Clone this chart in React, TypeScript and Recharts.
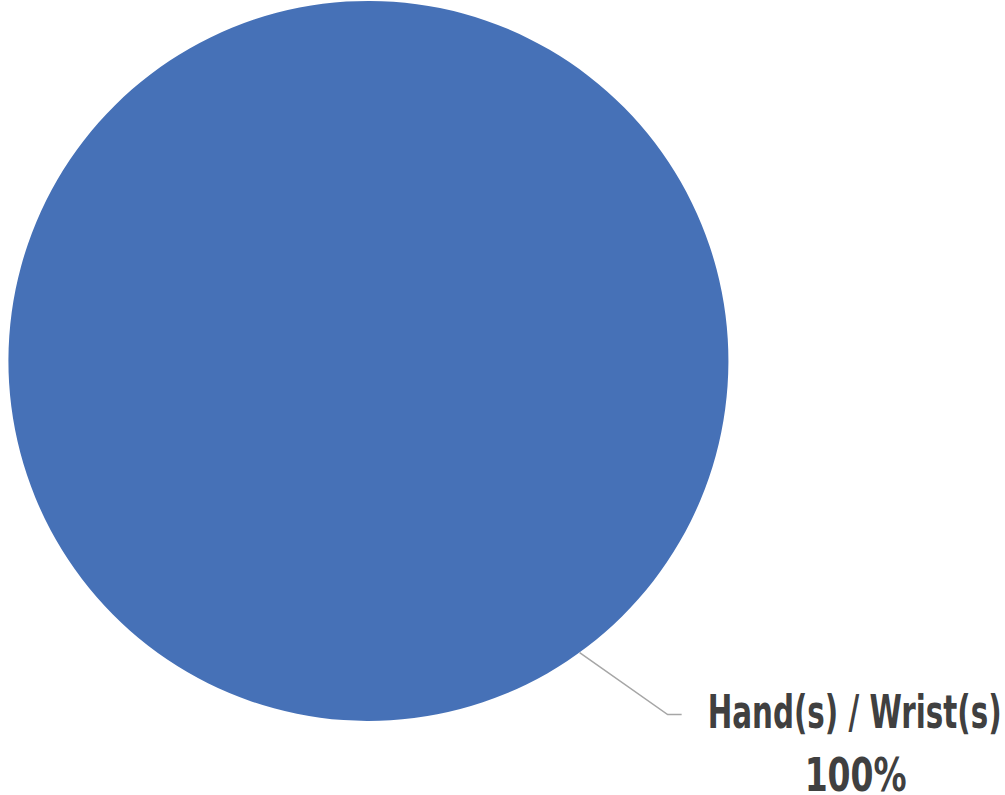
import React from "react";
import { PieChart, Pie, Cell } from "recharts";

const categories = ["Hand(s) / Wrist(s)"];
const values = [100];
const colors = ["#4671B7"];

const data = categories.map((name, i) => ({ name, value: values[i] }));

const RAD = Math.PI / 180;

const renderLabel = (props: any) => {
  const { cx, cy, outerRadius, midAngle, name, percent } = props;
  const sx = cx + outerRadius * Math.cos(-midAngle * RAD);
  const sy = cy + outerRadius * Math.sin(-midAngle * RAD);
  const ex = sx + 88;
  const ey = sy + 62;
  const hx = ex + 14;
  const tx = hx + 173;
  const font = "'Liberation Sans Narrow', 'DejaVu Sans Condensed', 'Roboto', sans-serif";
  return (
    <g>
      <polyline
        points={`${sx},${sy} ${ex},${ey} ${hx},${ey}`}
        fill="none"
        stroke="#A6A6A6"
        strokeWidth={1.5}
      />
      <text
        x={tx}
        y={ey + 13}
        textAnchor="middle"
        fill="#404040"
        fontFamily={font}
        fontWeight="bold"
        fontSize={47}
        textLength={294}
        lengthAdjust="spacingAndGlyphs"
      >
        {name}
      </text>
      <text
        x={tx + 1}
        y={ey + 76}
        textAnchor="middle"
        fill="#404040"
        fontFamily={font}
        fontWeight="bold"
        fontSize={47}
        textLength={102}
        lengthAdjust="spacingAndGlyphs"
      >
        {`${Math.round(percent * 100)}%`}
      </text>
    </g>
  );
};

export default function App() {
  return (
    <div style={{ position: "absolute", left: 0, top: 0, width: 1005, height: 795, background: "#fff" }}>
      <PieChart width={1005} height={795} margin={{ top: 0, right: 0, bottom: 0, left: 0 }}>
        <Pie
          data={data}
          dataKey="value"
          nameKey="name"
          cx={365}
          cy={363.5}
          outerRadius={360}
          startAngle={126.6}
          endAngle={-233.4}
          stroke="none"
          isAnimationActive={false}
          label={renderLabel}
          labelLine={false}
        >
          {data.map((d, i) => (
            <Cell key={d.name} fill={colors[i]} />
          ))}
        </Pie>
      </PieChart>
    </div>
  );
}
